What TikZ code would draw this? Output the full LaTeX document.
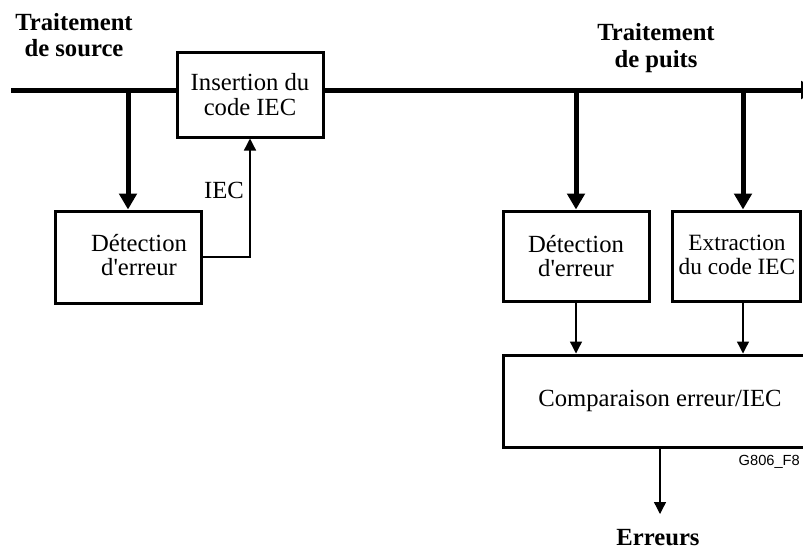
\documentclass[tikz,border=0pt]{standalone}
\usepackage{fontspec}
\setmainfont{Liberation Serif}
\newfontfamily\figfont{Liberation Sans}
\usetikzlibrary{arrows.meta}

\tikzset{
  box/.style={draw=black, line width=2.25pt, fill=white, inner sep=0pt, align=center, minimum width=109.5pt},
  txt/.style={align=center, font=\fontsize{18.5}{18.5}\selectfont},
  head/.style={align=center, font=\fontsize{18.5}{20}\selectfont\bfseries},
  bus/.style={line width=3.75pt},
  tap/.style={line width=3.75pt, -{Triangle[width=13pt,length=12pt]}},
  sig/.style={line width=1pt, -{Triangle[width=9pt,length=9pt]}}
}

\begin{document}
\begin{tikzpicture}[x=0.75pt, y=-0.75pt]
\useasboundingbox (0,0) rectangle (803,551);

\node[head] (src) at (74,35) {Traitement\\de source};
\node[head] (snk) at (656,48) {Traitement\\de puits};

\node[box, txt, minimum height=63.75pt] (ins) at (250,94.5) {Insertion du\\code IEC};
\node[box, minimum height=69pt] (det1) at (128,257) {};
\node[txt] (det1t) at (139,255) {Détection\\d\textquotesingle erreur};
\node[box, txt, minimum height=67.5pt] (det2) at (576,256) {Détection\\d\textquotesingle erreur};
\node[box, minimum width=96pt, minimum height=67.5pt] (ext) at (736,256) {};
\node[txt, font=\fontsize{17.5}{18.5}\selectfont] (extt) at (737,255) {Extraction\\du code IEC};
\node[box, txt, minimum width=235.5pt, minimum height=69pt] (comp) at (660,401) {Comparaison erreur/IEC};

\coordinate (l0) at (11,90);
\coordinate (l1) at (817,90);
\coordinate (t1) at (128,90);
\coordinate (t2) at (576,90);
\coordinate (t3) at (743,90);
\coordinate (out) at (660,514);

\draw[bus] (l0) -- (l0 -| ins.west);
\draw[bus, -{Triangle[width=13pt,length=12pt]}] (l0 -| ins.east) -- (l1);

\draw[tap] (t1) -- (det1.north);
\draw[tap] (t2) -- (det2.north);
\draw[tap] (t3) -- (t3 |- ext.north);

\draw[sig] (det1.east |- 0,257) -| (ins.south);
\node[txt] (iec) at (224,190) {IEC};

\draw[sig] (det2.south) -- (det2.south |- comp.north);
\draw[sig] (t3 |- ext.south) -- (t3 |- comp.north);
\draw[sig] (comp.south) -- (out);

\node[head] (err) at (658,538) {Erreurs};
\node[font=\figfont\fontsize{11}{12}\selectfont, anchor=west] (fig) at (734,462) {G806\_F8};
\end{tikzpicture}
\end{document}
